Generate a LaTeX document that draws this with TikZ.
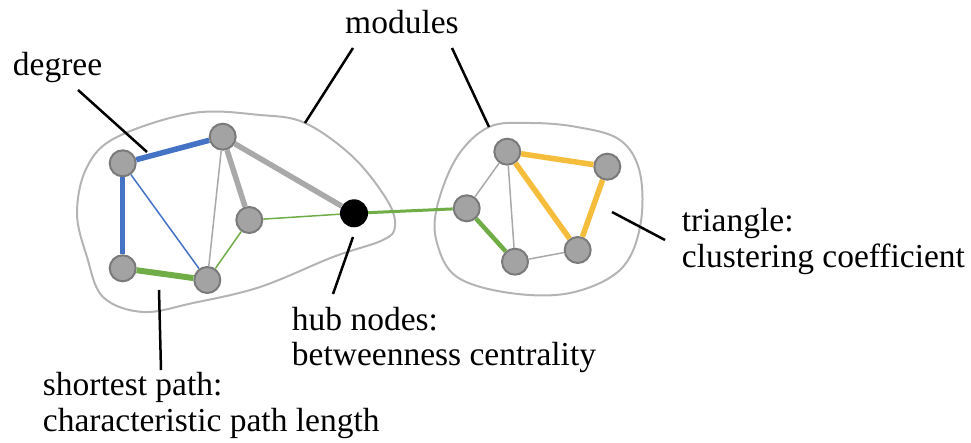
\documentclass[tikz,border=0pt]{standalone}
\usepackage{fontspec}
\setmainfont{Liberation Serif}
\definecolor{eblue}{HTML}{4472C4}
\definecolor{egreen}{HTML}{70AD47}
\definecolor{eorange}{HTML}{F5BD3C}
\definecolor{egray}{HTML}{A9A9A9}
\definecolor{nfill}{HTML}{A3A3A3}
\definecolor{nline}{HTML}{7A7A7A}
\definecolor{blobc}{HTML}{B4B4B4}
\tikzset{
  vtx/.style={circle, fill=nfill, draw=nline, line width=2pt, minimum size=26pt, inner sep=0pt},
  hubv/.style={circle, fill=black, minimum size=28pt, inner sep=0pt},
  thinE/.style={line width=1.5pt},
  midE/.style={line width=3pt},
  thickE/.style={line width=5.5pt},
  blob/.style={draw=blobc, line width=2pt},
  pointer/.style={draw=black, line width=2.5pt},
  lbl/.style={anchor=base west, inner sep=0pt, align=left, font=\fontsize{33.5}{35.5}\selectfont}
}
\begin{document}
\begin{tikzpicture}[x=1pt,y=-1pt]
\useasboundingbox (0,0) rectangle (971,443);
% module outlines
\draw[blob] plot[smooth cycle, tension=0.6] coordinates {
  (77,213) (87,167) (117,137) (193,113) (260,115) (305,123) (353,157)
  (387,200) (395,226) (383,240) (333,257) (260,287) (193,303) (143,312)
  (103,297) (87,257)};
\draw[blob] plot[smooth cycle, tension=0.6] coordinates {
  (530,123) (577,127) (620,140) (640,173) (640,227) (620,270) (570,293)
  (510,293) (457,277) (437,243) (437,207) (457,157) (489,127)};
% nodes
\node[vtx] (A) at (122.7,163.3) {};
\node[vtx] (B) at (222.7,136.7) {};
\node[vtx] (C) at (249.3,220) {};
\node[vtx] (D) at (122.7,268.3) {};
\node[vtx] (E) at (207.3,280) {};
\node[hubv] (H) at (354,213.3) {};
\node[vtx] (F) at (507.3,151.7) {};
\node[vtx] (G) at (607.3,166.7) {};
\node[vtx] (I) at (466.7,208.3) {};
\node[vtx] (J) at (515,261.7) {};
\node[vtx] (K) at (577.7,250) {};
% edges
\draw[eblue, thickE] (A) -- (B);
\draw[eblue, thickE] (A) -- (D);
\draw[eblue, thinE] (A) -- (E);
\draw[egray, thinE] (B) -- (E);
\draw[egray, thickE] (B) -- (C);
\draw[egray, thickE] (B) -- (H);
\draw[egreen, thinE] (C) -- (H);
\draw[egreen, thinE] (C) -- (E);
\draw[egreen, line width=6pt] (D) -- (E);
\draw[egreen, midE] (H) -- (I);
\draw[egray, thinE] (I) -- (F);
\draw[egray, thinE] (F) -- (J);
\draw[egreen, line width=4.5pt] (I) -- (J);
\draw[eorange, thickE] (F) -- (G);
\draw[eorange, thickE] (F) -- (K);
\draw[eorange, thickE] (G) -- (K);
\draw[egray, thinE] (J) -- (K);
% labels (base anchor = baseline of last line)
\node[lbl] (tdeg) at (12.7,76) {degree};
\node[lbl] (tmod) at (345,33.3) {modules};
\node[lbl] (thub) at (291.7,365.5) {hub nodes:\\betweenness centrality};
\node[lbl] (tsp) at (42.7,431) {shortest path:\\characteristic path length};
\node[lbl] (ttri) at (681.7,267.5) {triangle:\\clustering coefficient};
% pointers
\coordinate (p1a) at (78,90);   \coordinate (p1b) at (147,152);
\coordinate (p2a) at (353,48);  \coordinate (p2b) at (305,123);
\coordinate (p3a) at (452,48);  \coordinate (p3b) at (489,127);
\coordinate (p4a) at (353,237); \coordinate (p4b) at (333,294);
\coordinate (p5a) at (159,290); \coordinate (p5b) at (161,370);
\coordinate (p6a) at (612,212); \coordinate (p6b) at (665,240);
\draw[pointer] (p1a) -- (p1b);
\draw[pointer] (p2a) -- (p2b);
\draw[pointer] (p3a) -- (p3b);
\draw[pointer] (p4a) -- (p4b);
\draw[pointer] (p5a) -- (p5b);
\draw[pointer] (p6a) -- (p6b);
\end{tikzpicture}
\end{document}
